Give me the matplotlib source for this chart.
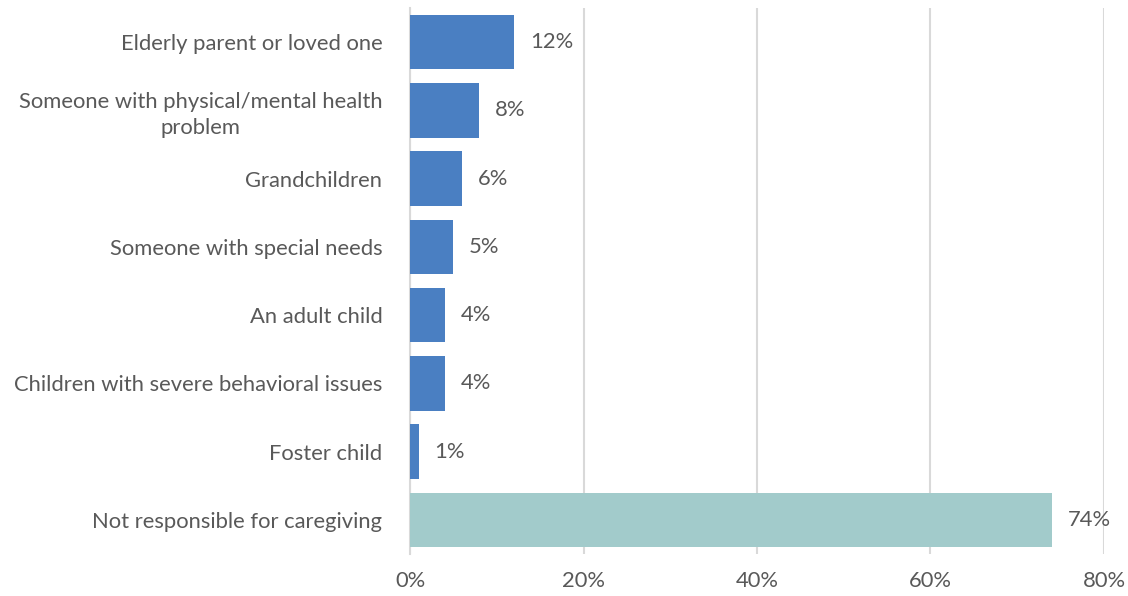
import matplotlib.pyplot as plt
from matplotlib.ticker import FuncFormatter

categories = [
    "Elderly parent or loved one",
    "Someone with physical/mental health\nproblem",
    "Grandchildren",
    "Someone with special needs",
    "An adult child",
    "Children with severe behavioral issues",
    "Foster child",
    "Not responsible for caregiving",
]
values = [12, 8, 6, 5, 4, 4, 1, 74]
bar_colors = ["#4a7fc2"] * 7 + ["#a2cbcb"]
x_ticks = [0, 20, 40, 60, 80]

plt.rcParams["font.family"] = ["Lato", "DejaVu Sans"]
text_color = "#595959"
fs = 15.8

fig = plt.figure(figsize=(11.28, 5.96), dpi=100)
ax = fig.add_axes([0.3635, 0.0705, 0.6152, 0.9161])

y = list(range(len(categories)))
ax.barh(y, values, height=0.8, color=bar_colors, zorder=3)
for yi, v in zip(y, values):
    ax.text(v + 1.8, yi, f"{v}%", va="center", ha="left",
            fontsize=fs, color=text_color)

ax.set_ylim(len(categories) - 0.5, -0.5)
ax.set_xlim(0, 80)
ax.set_yticks(y)
ax.set_yticklabels(categories, fontsize=fs, color=text_color,
                   multialignment="center", linespacing=1.35)
ax.set_xticks(x_ticks)
ax.xaxis.set_major_formatter(FuncFormatter(lambda v, p: f"{v:.0f}%"))
ax.tick_params(axis="x", labelsize=fs, labelcolor=text_color, length=0, pad=12)
ax.tick_params(axis="y", length=0, pad=20)

ax.grid(axis="x", color="#d9d9d9", linewidth=1.5, zorder=0)
for side in ["top", "right", "bottom"]:
    ax.spines[side].set_visible(False)
ax.spines["left"].set_color("#d9d9d9")
ax.spines["left"].set_linewidth(1.5)

fig.savefig("out.png", dpi=100)
